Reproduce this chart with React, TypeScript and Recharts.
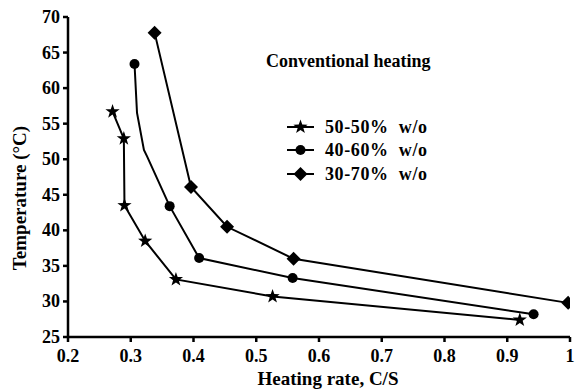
import React from 'react';
import { ScatterChart, Scatter, XAxis, YAxis } from 'recharts';

const s5050X = [0.271, 0.289, 0.29, 0.323, 0.372, 0.526, 0.92];
const s5050Y = [56.7, 52.9, 43.5, 38.5, 33.1, 30.7, 27.4];

const s4060X = [0.306, 0.31, 0.321, 0.326, 0.362, 0.409, 0.558, 0.942];
const s4060Y = [63.4, 56.5, 51.3, 50.4, 43.4, 36.1, 33.3, 28.2];
const s4060Marked = [true, false, false, false, true, true, true, true];

const s3070X = [0.338, 0.396, 0.4535, 0.5595, 0.997];
const s3070Y = [67.8, 46.1, 40.5, 36.0, 29.8];

const xTicks = [0.2, 0.3, 0.4, 0.5, 0.6, 0.7, 0.8, 0.9, 1];
const yTicks = [25, 30, 35, 40, 45, 50, 55, 60, 65, 70];

const seriesNames = ['50-50%  w/o', '40-60%  w/o', '30-70%  w/o'];
const title = 'Conventional heating';
const xLabel = 'Heating rate, C/S';
const yLabel = 'Temperature (°C)';

const d5050 = s5050X.map((x, i) => ({ x, y: s5050Y[i], m: true }));
const d4060 = s4060X.map((x, i) => ({ x, y: s4060Y[i], m: s4060Marked[i] }));
const d3070 = s3070X.map((x, i) => ({ x, y: s3070Y[i], m: true }));

const FONT = 'Liberation Serif';

function starPath(cx: number, cy: number, ro: number, ri: number) {
  let d = '';
  for (let i = 0; i < 10; i++) {
    const r = i % 2 === 0 ? ro : ri;
    const a = -Math.PI / 2 + (i * Math.PI) / 5;
    d += (i === 0 ? 'M' : 'L') + (cx + r * Math.cos(a)).toFixed(2) + ',' + (cy + r * Math.sin(a)).toFixed(2);
  }
  return d + 'Z';
}

const Marker = ({ kind, cx, cy }: { kind: string; cx: number; cy: number }) => {
  if (kind === 'star') return <path d={starPath(cx, cy, 7.5, 3)} fill="#000" />;
  if (kind === 'circle') return <circle cx={cx} cy={cy} r={5} fill="#000" />;
  return <path d={`M${cx},${cy - 7}L${cx + 7},${cy}L${cx},${cy + 7}L${cx - 7},${cy}Z`} fill="#000" />;
};

const makeShape = (kind: string) => (props: any) => {
  if (!props.payload || !props.payload.m) return <g />;
  return <Marker kind={kind} cx={props.cx} cy={props.cy} />;
};

const kinds = ['star', 'circle', 'diamond'];
const legendRows = [127, 150, 174];

const renderXTick = (props: any) => {
  const { x, y, payload } = props;
  return (
    <text x={x} y={y + 17.5} textAnchor="middle" fill="#000" fontSize={18} fontFamily={FONT} fontWeight={700}>
      {String(payload.value)}
    </text>
  );
};

const renderYTick = (props: any) => {
  const { x, y, payload } = props;
  return (
    <text x={x - 1} y={y + 6} textAnchor="end" fill="#000" fontSize={18} fontFamily={FONT} fontWeight={700}>
      {String(payload.value)}
    </text>
  );
};

export default function App() {
  return (
    <div style={{ position: 'absolute', left: 0, top: 0, width: 578, height: 390, background: '#fff' }}>
      <ScatterChart width={578} height={390} margin={{ top: 17, right: 8, bottom: 23, left: 0 }}>
        <XAxis
          type="number"
          dataKey="x"
          domain={[0.2, 1]}
          ticks={xTicks}
          allowDataOverflow
          axisLine={{ stroke: '#000', strokeWidth: 2.5 }}
          tickLine={{ stroke: '#000', strokeWidth: 2.5 }}
          tickSize={5}
          tick={renderXTick}
          label={() => (
            <text x={328} y={385} textAnchor="middle" fill="#000" fontSize={19} fontFamily={FONT} fontWeight={700}>
              {xLabel}
            </text>
          )}
        />
        <YAxis
          type="number"
          dataKey="y"
          domain={[25, 70]}
          ticks={yTicks}
          width={68}
          allowDataOverflow
          axisLine={{ stroke: '#000', strokeWidth: 2.5 }}
          tickLine={{ stroke: '#000', strokeWidth: 2.5 }}
          tickSize={5}
          tick={renderYTick}
          label={() => (
            <text x={26} y={198} transform="rotate(-90 26 198)" textAnchor="middle" fill="#000" fontSize={19} fontFamily={FONT} fontWeight={700}>
              {yLabel}
            </text>
          )}
        />
        <Scatter name={seriesNames[0]} data={d5050} line={{ stroke: '#000', strokeWidth: 2 }} lineType="joint" shape={makeShape('star')} isAnimationActive={false} />
        <Scatter name={seriesNames[1]} data={d4060} line={{ stroke: '#000', strokeWidth: 2 }} lineType="joint" shape={makeShape('circle')} isAnimationActive={false} />
        <Scatter name={seriesNames[2]} data={d3070} line={{ stroke: '#000', strokeWidth: 2 }} lineType="joint" shape={makeShape('diamond')} isAnimationActive={false} />
        <g>
          {seriesNames.map((n, i) => {
            const y = legendRows[i];
            return (
              <g key={n}>
                <line x1={287} x2={314} y1={y} y2={y} stroke="#000" strokeWidth={2} />
                <Marker kind={kinds[i]} cx={300.5} cy={y} />
                <text x={325} y={y + 6} fill="#000" fontSize={18} fontFamily={FONT} fontWeight={700} letterSpacing={0.6} style={{ whiteSpace: 'pre' }}>
                  {n}
                </text>
              </g>
            );
          })}
        </g>
        <text x={266} y={67} fill="#000" fontSize={18} fontFamily={FONT} fontWeight={700}>{title}</text>
      </ScatterChart>
    </div>
  );
}
